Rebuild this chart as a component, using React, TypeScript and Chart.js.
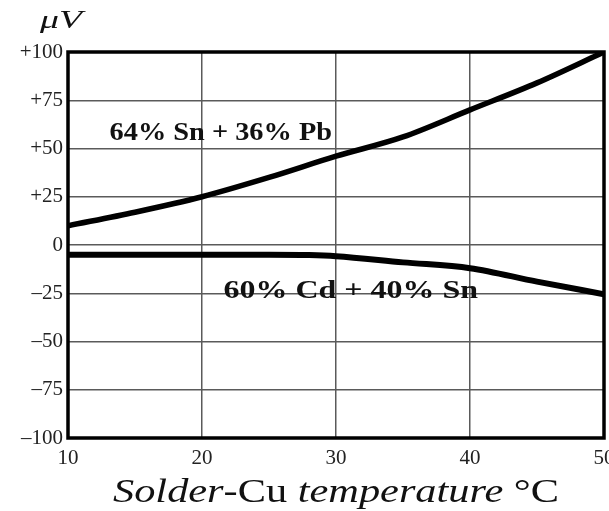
import React, { useEffect, useRef } from "react";
import { Chart, registerables } from "chart.js";

Chart.register(...registerables);

// ---- data ----
const snPbTemps = [10, 15, 20, 25, 30, 35, 40, 45, 50];
const snPbValues = [10, 17, 25, 35, 46, 56, 70, 84, 100];
const cdSnTemps = [10, 15, 20, 25, 28, 30, 35, 40, 45, 50];
const cdSnValues = [-5, -5, -5, -5, -5.2, -5.8, -9, -12, -19, -25.5];
const xTickValues = [10, 20, 30, 40, 50];
const yTickValues = [100, 75, 50, 25, 0, -25, -50, -75, -100];
const yTickLabels = ["+100", "+75", "+50", "+25", "0", "–25", "–50", "–75", "–100"];
const seriesNames = ["64% Sn + 36% Pb", "60% Cd + 40% Sn"];
const unitLabel = "μV";
const xTitleParts = [
  { text: "Solder", italic: true },
  { text: "-Cu ", italic: false },
  { text: "temperature", italic: true },
  { text: " °C", italic: false },
];

const SERIF = "'Liberation Serif', 'Times New Roman', serif";

function drawFitted(
  ctx: CanvasRenderingContext2D,
  parts: { text: string; font: string }[],
  left: number,
  baseline: number,
  width: number
) {
  let total = 0;
  const widths = parts.map((p) => {
    ctx.font = p.font;
    const w = ctx.measureText(p.text).width;
    total += w;
    return w;
  });
  const sx = width / total;
  ctx.save();
  ctx.translate(left, baseline);
  ctx.scale(sx, 1);
  ctx.fillStyle = "#111";
  ctx.textBaseline = "alphabetic";
  ctx.textAlign = "left";
  let x = 0;
  parts.forEach((p, i) => {
    ctx.font = p.font;
    ctx.fillText(p.text, x, 0);
    x += widths[i];
  });
  ctx.restore();
}

const decorPlugin = {
  id: "decor",
  afterDatasetsDraw(chart: any) {
    const ctx: CanvasRenderingContext2D = chart.ctx;
    const { left, right, top, bottom } = chart.chartArea;
    const xs = chart.scales.x;
    const ys = chart.scales.y;
    // frame
    ctx.save();
    ctx.strokeStyle = "#000";
    ctx.lineWidth = 3.5;
    ctx.strokeRect(left, top, right - left, bottom - top);
    ctx.restore();
    // series annotations (placed in data coordinates)
    const a1L = xs.getPixelForValue(13.1);
    const a1R = xs.getPixelForValue(29.7);
    drawFitted(ctx, [{ text: seriesNames[0], font: `bold 25px ${SERIF}` }], a1L, ys.getPixelForValue(54.4), a1R - a1L);
    const a2L = xs.getPixelForValue(21.6);
    const a2R = xs.getPixelForValue(40.6);
    drawFitted(ctx, [{ text: seriesNames[1], font: `bold 25px ${SERIF}` }], a2L, ys.getPixelForValue(-27.4), a2R - a2L);
  },
  afterDraw(chart: any) {
    const ctx: CanvasRenderingContext2D = chart.ctx;
    // unit label
    drawFitted(ctx, [{ text: unitLabel, font: `italic 25px ${SERIF}` }], 40, 28, 42);
    // x title with mixed styles
    drawFitted(
      ctx,
      xTitleParts.map((p) => ({ text: p.text, font: `${p.italic ? "italic " : ""}34px ${SERIF}` })),
      113,
      502,
      446
    );
  },
};

export default function App() {
  const ref = useRef<HTMLCanvasElement>(null);
  useEffect(() => {
    document.body.style.margin = "0";
    const canvas = ref.current!;
    const chart = new Chart(canvas, {
      type: "line",
      data: {
        datasets: [
          {
            label: seriesNames[0],
            data: snPbTemps.map((t, i) => ({ x: t, y: snPbValues[i] })),
            borderColor: "#000",
            borderWidth: 5.5,
            pointRadius: 0,
            cubicInterpolationMode: "monotone",
            fill: false,
          },
          {
            label: seriesNames[1],
            data: cdSnTemps.map((t, i) => ({ x: t, y: cdSnValues[i] })),
            borderColor: "#000",
            borderWidth: 6,
            pointRadius: 0,
            cubicInterpolationMode: "monotone",
            fill: false,
          },
        ],
      },
      options: {
        animation: false,
        responsive: false,
        devicePixelRatio: 1,
        layout: { padding: { top: 52, right: 5, left: 0, bottom: 0 } },
        plugins: { legend: { display: false }, tooltip: { enabled: false }, title: { display: false } },
        scales: {
          x: {
            type: "linear",
            min: 10,
            max: 50,
            afterBuildTicks: (scale: any) => {
              scale.ticks = xTickValues.map((v) => ({ value: v }));
            },
            afterFit: (scale: any) => {
              scale.height = 73;
              scale.paddingLeft = 0;
              scale.paddingRight = 0;
            },
            grid: { color: "#5a5a5a", lineWidth: 1.5, drawTicks: false },
            border: { display: false },
            ticks: {
              color: "#222",
              padding: 8,
              maxRotation: 0,
              autoSkip: false,
              font: { family: SERIF, size: 21 },
              callback: (v: any) => String(v),
            },
          },
          y: {
            type: "linear",
            min: -100,
            max: 100,
            afterBuildTicks: (scale: any) => {
              scale.ticks = yTickValues.map((v) => ({ value: v }));
            },
            afterFit: (scale: any) => {
              scale.width = 68;
            },
            grid: { color: "#5a5a5a", lineWidth: 1.5, drawTicks: false },
            border: { display: false },
            ticks: {
              color: "#222",
              padding: 5,
              autoSkip: false,
              font: { family: SERIF, size: 21 },
              callback: (v: any) => {
                const i = yTickValues.indexOf(Number(v));
                return i >= 0 ? yTickLabels[i] : "";
              },
            },
          },
        },
      },
      plugins: [decorPlugin],
    } as any);
    return () => chart.destroy();
  }, []);
  return <canvas ref={ref} width={609} height={511} style={{ display: "block", width: 609, height: 511 }} />;
}
